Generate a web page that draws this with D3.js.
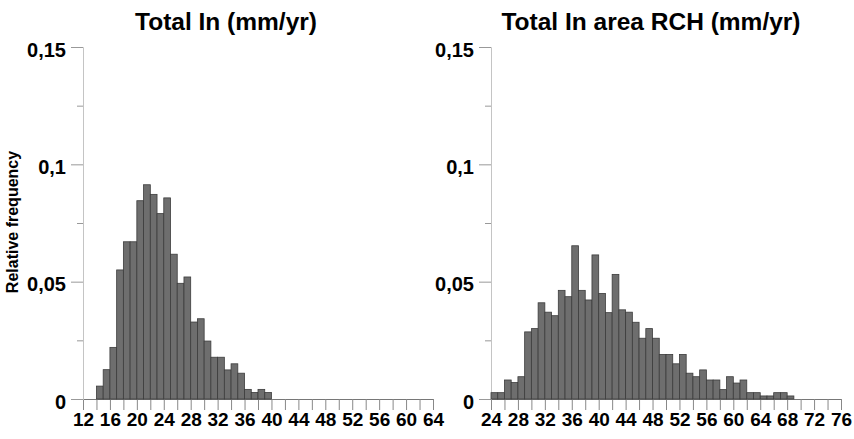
<!DOCTYPE html>
<html>
<head>
<meta charset="utf-8">
<script src="https://cdn.jsdelivr.net/npm/d3@7.9.0/dist/d3.min.js"></script>
<style>
  body { margin: 0; background: #fff; }
  svg { display: block; font-family: 'Liberation Sans', Arial, sans-serif; }
</style>
</head>
<body>
<svg id="chart" width="854" height="439"></svg>
<script>
// relative frequency per 1 mm/yr bin
const totalInStart = 14;
const totalInFreq = [
  0.0055, 0.0125, 0.022, 0.055, 0.067, 0.067, 0.0845, 0.0913, 0.0872, 0.079,
  0.0857, 0.0617, 0.0493, 0.052, 0.0328, 0.0342, 0.0247, 0.0178, 0.0178, 0.0124,
  0.015, 0.011, 0.0041, 0.0028, 0.0041, 0.0028
];

const rchStart = 24;
const rchFreq = [
  0.0027, 0.0027, 0.0081, 0.007, 0.0095, 0.0286, 0.030, 0.041, 0.037, 0.0355,
  0.0463, 0.0436, 0.0653, 0.0463, 0.0422, 0.0614, 0.045, 0.0368, 0.0531, 0.038,
  0.037, 0.0327, 0.0259, 0.030, 0.0259, 0.019, 0.019, 0.015, 0.019, 0.011,
  0.0095, 0.0124, 0.0081, 0.0081, 0.004, 0.0095, 0.0068, 0.0081, 0.0027, 0.0027,
  0.0013, 0.0013, 0.0027, 0.0027, 0.0013
];

const yMajor = [0, 0.05, 0.1, 0.15];
const yMinor = [0.025, 0.075, 0.125];
const yLabels = ['0', '0,05', '0,1', '0,15'];

const svg = d3.select('#chart');

const y = d3.scaleLinear().domain([0, 0.15]).range([399, 47]);

function panel(opts) {
  const x = d3.scaleLinear().domain(opts.domain).range(opts.range);
  const g = svg.append('g');

  const bins = opts.freq.map((f, i) => ({ x0: opts.start + i, x1: opts.start + i + 1, f }));

  // x axis
  const xAxis = d3.axisBottom(x)
    .tickValues(d3.range(opts.domain[0], opts.domain[1] + 1, 2))
    .tickFormat(d => d % 4 === 0 ? d : '')
    .tickSize(11)
    .tickSizeOuter(0)
    .tickPadding(3);
  const gx = g.append('g').attr('transform', `translate(0,${y(0)})`).call(xAxis);
  gx.select('.domain').attr('stroke', '#777');
  gx.selectAll('.tick line').attr('stroke', '#888');
  gx.selectAll('.tick text')
    .attr('fill', '#000')
    .style('font-size', '19px')
    .style('font-weight', 'bold');

  // y axis minor + major
  const gyMinor = g.append('g').attr('transform', `translate(${opts.range[0]},0)`)
    .call(d3.axisLeft(y).tickValues(yMinor).tickSize(6).tickSizeOuter(0).tickFormat(''));
  gyMinor.select('.domain').attr('stroke', '#c4c4c4');
  gyMinor.selectAll('.tick line').attr('stroke', '#999');

  const gy = g.append('g').attr('transform', `translate(${opts.range[0]},0)`)
    .call(d3.axisLeft(y).tickValues(yMajor).tickSize(12).tickSizeOuter(0)
      .tickPadding(5).tickFormat((d, i) => yLabels[i]));
  gy.select('.domain').attr('stroke', '#c4c4c4');
  gy.selectAll('.tick line').attr('stroke', '#999');
  gy.selectAll('.tick text')
    .attr('fill', '#000')
    .attr('dy', '0.45em')
    .style('font-size', '20px')
    .style('font-weight', 'bold');

  // bars
  g.append('g').selectAll('rect')
    .data(bins)
    .join('rect')
    .attr('x', d => x(d.x0))
    .attr('width', d => x(d.x1) - x(d.x0))
    .attr('y', d => y(d.f))
    .attr('height', d => y(0) - y(d.f))
    .attr('fill', '#6e6e6e')
    .attr('stroke', '#3c3c3c')
    .attr('stroke-width', 0.8);

  g.append('text')
    .attr('x', opts.titleX)
    .attr('y', 30)
    .attr('text-anchor', 'middle')
    .style('font-size', '24.5px')
    .style('font-weight', 'bold')
    .text(opts.title);
}

panel({
  domain: [12, 64], range: [83, 433],
  start: totalInStart, freq: totalInFreq,
  title: 'Total In (mm/yr)', titleX: 226
});

panel({
  domain: [24, 76], range: [491, 841],
  start: rchStart, freq: rchFreq,
  title: 'Total In area RCH (mm/yr)', titleX: 651
});

svg.append('text')
  .attr('transform', 'translate(18,222) rotate(-90)')
  .attr('text-anchor', 'middle')
  .style('font-size', '16px')
  .style('font-weight', 'bold')
  .text('Relative frequency');
</script>
</body>
</html>
